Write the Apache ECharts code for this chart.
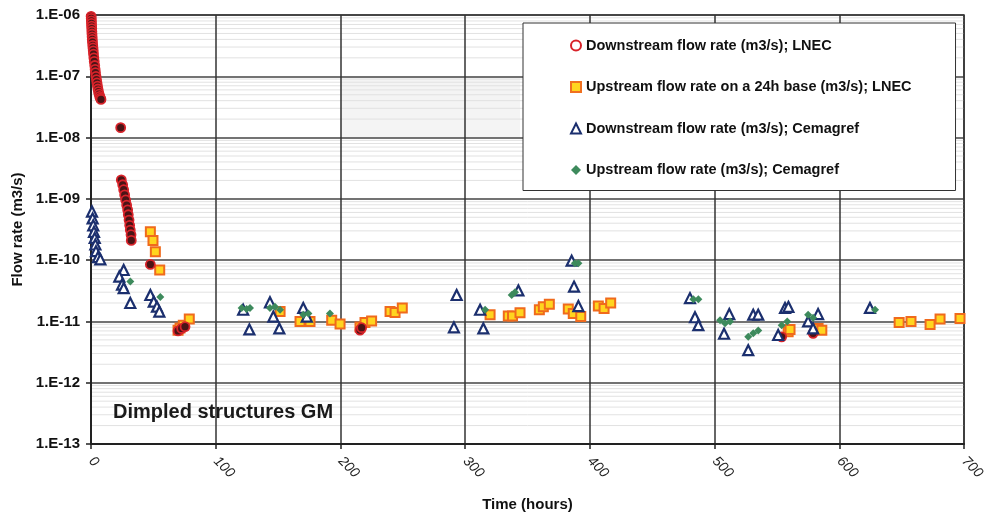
<!DOCTYPE html>
<html>
<head>
<meta charset="utf-8">
<script src="https://cdn.jsdelivr.net/npm/echarts@6/dist/echarts.min.js"></script>
<style>html,body{margin:0;padding:0;background:#fff;}#c{width:987px;height:513px;}</style>
</head>
<body>
<div id="c"></div>
<script>
// Data: [time (hours), flow rate (m3/s)]
var downstreamLNEC = [
  [0.1,9.5e-7],[0.2,8.8e-7],[0.3,8.0e-7],[0.4,7.3e-7],[0.5,6.6e-7],[0.6,6.0e-7],[0.7,5.4e-7],
  [0.8,4.9e-7],[0.9,4.4e-7],[1.0,4.0e-7],[1.2,3.6e-7],[1.4,3.2e-7],[1.6,2.9e-7],[1.8,2.6e-7],
  [2.0,2.3e-7],[2.3,2.0e-7],[2.6,1.75e-7],[3.0,1.5e-7],[3.3,1.3e-7],[3.6,1.15e-7],[4.0,1.0e-7],
  [4.4,8.8e-8],[4.8,7.8e-8],[5.2,6.9e-8],[5.6,6.2e-8],[6.0,5.6e-8],[6.5,5.1e-8],[7.0,4.7e-8],
  [7.5,4.4e-8],[8.0,4.2e-8],
  [23.8,1.45e-8],
  [24.3,2.04e-9],[25.4,1.7e-9],[26.2,1.41e-9],[27.0,1.16e-9],[27.8,9.6e-10],[28.6,7.9e-10],
  [29.4,6.6e-10],[29.9,5.5e-10],[30.5,4.5e-10],[31.0,3.7e-10],[31.5,3.1e-10],[32.1,2.6e-10],[32.3,2.1e-10],
  [47.6,8.5e-11],
  [69.8,7.0e-12],[72.7,7.7e-12],[75.4,8.2e-12],
  [215.7,7.2e-12],[217.0,7.9e-12],
  [553.8,5.6e-12],[579.0,6.4e-12]
];
var upstreamLNEC = [
  [47.6,2.9e-10],[49.7,2.1e-10],[51.6,1.37e-10],[55.1,6.9e-11],
  [69.8,7.2e-12],[71.4,7.8e-12],[74.0,8.7e-12],[78.8,1.1e-11],
  [151.6,1.45e-11],[167.6,1.0e-11],[175.6,1.0e-11],[193.0,1.05e-11],[199.7,9.1e-12],
  [215.7,8.1e-12],[219.7,9.6e-12],[225.0,1.02e-11],[239.8,1.45e-11],[243.8,1.4e-11],[249.6,1.66e-11],
  [320.0,1.29e-11],[334.6,1.23e-11],[338.0,1.23e-11],[344.0,1.38e-11],[359.5,1.55e-11],[362.7,1.73e-11],
  [367.5,1.9e-11],[382.7,1.59e-11],[386.7,1.35e-11],[392.7,1.2e-11],[406.8,1.78e-11],[411.4,1.62e-11],
  [416.7,2.0e-11],
  [559.0,6.8e-12],[560.5,7.4e-12],[583.0,7.7e-12],[586.0,7.2e-12],
  [648.0,9.6e-12],[657.5,1.0e-11],[672.8,8.9e-12],[680.8,1.1e-11],[696.8,1.12e-11]
];
var downstreamCemagref = [
  [0.8,6.2e-10],[1.3,4.8e-10],[1.8,3.7e-10],[2.4,2.9e-10],[3.0,2.3e-10],[3.5,1.8e-10],[4.0,1.4e-10],
  [5.6,1.12e-10],[7.5,1.03e-10],
  [26.2,6.9e-11],[22.7,5.4e-11],[24.9,4.0e-11],[26.2,3.5e-11],[31.5,2.0e-11],
  [47.6,2.7e-11],[50.3,2.1e-11],[52.9,1.74e-11],[54.8,1.45e-11],
  [122.0,1.55e-11],[127.0,7.4e-12],[143.5,2.05e-11],[146.2,1.2e-11],[151.0,7.7e-12],
  [170.2,1.66e-11],[173.0,1.2e-11],
  [291.0,8.0e-12],[293.2,2.7e-11],
  [312.0,1.55e-11],[314.6,7.7e-12],[342.7,3.2e-11],[385.4,9.8e-11],[387.3,3.7e-11],[390.8,1.78e-11],
  [480.3,2.4e-11],[484.3,1.17e-11],[487.0,8.7e-12],
  [507.6,6.3e-12],[511.8,1.32e-11],[527.0,3.4e-12],[531.0,1.29e-11],[535.0,1.29e-11],
  [551.0,6.0e-12],[556.5,1.66e-11],[559.2,1.73e-11],
  [575.0,1.0e-11],[579.0,7.7e-12],[583.0,1.32e-11],
  [624.6,1.66e-11]
];
var upstreamCemagref = [
  [31.5,4.5e-11],[55.6,2.5e-11],
  [120.8,1.66e-11],[124.8,1.6e-11],[127.5,1.66e-11],[143.5,1.66e-11],[147.5,1.73e-11],[151.6,1.55e-11],
  [170.2,1.29e-11],[174.3,1.35e-11],[191.6,1.35e-11],
  [316.0,1.55e-11],[337.3,2.7e-11],[340.0,3.0e-11],[388.0,8.9e-11],[390.8,8.9e-11],
  [483.0,2.3e-11],[487.0,2.3e-11],
  [504.4,1.05e-11],[508.4,9.3e-12],[512.4,1.0e-11],
  [527.0,5.6e-12],[531.0,6.4e-12],[535.0,7.1e-12],
  [553.8,8.7e-12],[558.3,1.0e-11],[575.0,1.29e-11],[579.0,1.15e-11],
  [628.7,1.55e-11]
];
var seriesNames = [
  'Downstream flow rate (m3/s); LNEC',
  'Upstream flow rate on a 24h base (m3/s); LNEC',
  'Downstream flow rate (m3/s); Cemagref',
  'Upstream flow rate (m3/s); Cemagref'
];
var xTicks = [0, 100, 200, 300, 400, 500, 600, 700];
var yDecades = [-13, -12, -11, -10, -9, -8, -7, -6];
var annotation = 'Dimpled structures GM';

var FONT = 'Liberation Sans, Arial, sans-serif';

// minor log grid lines (2..9 x 10^k), drawn as broken horizontal line segments across the x range
var xMin = xTicks[0], xMax = xTicks[xTicks.length - 1];
var minorGrid = [];
for (var d = 0; d < yDecades.length - 1; d++) {
  for (var m = 2; m <= 9; m++) {
    var v = m * Math.pow(10, yDecades[d]);
    minorGrid.push([xMin, v], [xMax, v], [xMax, '-']);
  }
}

var chart = echarts.init(document.getElementById('c'), null, { renderer: 'canvas' });
chart.setOption({
  animation: false,
  backgroundColor: '#fff',
  textStyle: { fontFamily: FONT },
  title: {
    text: annotation,
    left: 108, top: 397,
    textStyle: { fontFamily: FONT, fontSize: 20, fontWeight: 'bold', color: '#1a1a1a' }
  },
  grid: {
    left: 91, right: 23, top: 15, bottom: 69,
    outerBoundsMode: 'none', containLabel: false,
    show: true, borderColor: '#333', borderWidth: 1.5, backgroundColor: 'transparent'
  },
  legend: {
    orient: 'vertical',
    left: 523, top: 23, z: 10,
    padding: [15, 44, 13, 47],
    itemGap: 26.5,
    itemWidth: 10, itemHeight: 10,
    backgroundColor: '#fff',
    borderColor: '#333', borderWidth: 1,
    textStyle: { fontFamily: FONT, fontSize: 14.5, fontWeight: 'bold', color: '#111', lineHeight: 14 },
    data: [
      { name: seriesNames[0], icon: 'circle', itemStyle: { color: '#fff', borderColor: '#d8232a', borderWidth: 2 } },
      { name: seriesNames[1], icon: 'rect', itemStyle: { color: '#ffd51f', borderColor: '#f07020', borderWidth: 2 } },
      { name: seriesNames[2], icon: 'triangle', itemStyle: { color: '#fff', borderColor: '#1b2f6e', borderWidth: 2 } },
      { name: seriesNames[3], icon: 'diamond', itemStyle: { color: '#3d8a5c', borderWidth: 0 } }
    ]
  },
  xAxis: {
    type: 'value', min: xMin, max: xMax, interval: 100, z: 2,
    name: 'Time (hours)', nameLocation: 'middle', nameGap: 53,
    nameTextStyle: { fontFamily: FONT, fontSize: 15, fontWeight: 'bold', color: '#111' },
    axisLine: { show: true, onZero: false, lineStyle: { color: '#222', width: 2 } },
    axisTick: { show: true, length: 5, lineStyle: { color: '#222', width: 1.5 } },
    axisLabel: { rotate: -45, margin: 15, fontFamily: FONT, fontSize: 14, color: '#222', fontStyle: 'italic' },
    splitLine: { show: true, lineStyle: { color: '#333', width: 1.5 } }
  },
  yAxis: {
    type: 'log', logBase: 10, z: 2,
    min: Math.pow(10, yDecades[0]), max: Math.pow(10, yDecades[yDecades.length - 1]),
    splitNumber: 7,
    name: 'Flow rate (m3/s)', nameLocation: 'middle', nameGap: 63, nameRotate: 90,
    nameTextStyle: { fontFamily: FONT, fontSize: 15, fontWeight: 'bold', color: '#111' },
    axisLine: { show: true, lineStyle: { color: '#222', width: 2 } },
    axisTick: { show: true, length: 5, lineStyle: { color: '#222', width: 1.5 } },
    axisLabel: {
      margin: 11, fontFamily: FONT, fontSize: 15, fontWeight: 'bold', color: '#111',
      formatter: function (v) {
        var e = Math.round(Math.log10(v));
        return '1.E' + (e < 0 ? '-' : '+') + String(Math.abs(e)).padStart(2, '0');
      }
    },
    splitLine: { show: true, lineStyle: { color: '#444', width: 1.5 } }
  },
  series: [
    {
      name: '_minorGrid', type: 'line', data: minorGrid, z: 1, silent: true,
      showSymbol: false, symbol: 'none', connectNulls: false,
      lineStyle: { color: '#e2e2e2', width: 1 },
      emphasis: { disabled: true }, tooltip: { show: false },
      markArea: {
        silent: true,
        itemStyle: { color: 'rgba(0,0,0,0.045)' },
        data: [[{ xAxis: 200, yAxis: 1e-7 }, { xAxis: 344, yAxis: 1e-8 }]]
      }
    },
    {
      name: seriesNames[1], type: 'scatter', data: upstreamLNEC, z: 3,
      symbol: 'rect', symbolSize: 9,
      itemStyle: { color: '#ffd51f', borderColor: '#f06a1c', borderWidth: 2, opacity: 1 }
    },
    {
      name: seriesNames[0], type: 'scatter', data: downstreamLNEC, z: 4,
      symbol: 'circle', symbolSize: 9,
      itemStyle: { color: '#4a1416', borderColor: '#d8232a', borderWidth: 1.8, opacity: 1 }
    },
    {
      name: seriesNames[2], type: 'scatter', data: downstreamCemagref, z: 5,
      symbol: 'triangle', symbolSize: 10,
      itemStyle: { color: '#fff', borderColor: '#1b2f6e', borderWidth: 2.2, opacity: 1 }
    },
    {
      name: seriesNames[3], type: 'scatter', data: upstreamCemagref, z: 6,
      symbol: 'diamond', symbolSize: 8,
      itemStyle: { color: '#3d8a5c', opacity: 1 }
    }
  ]
});
</script>
</body>
</html>
